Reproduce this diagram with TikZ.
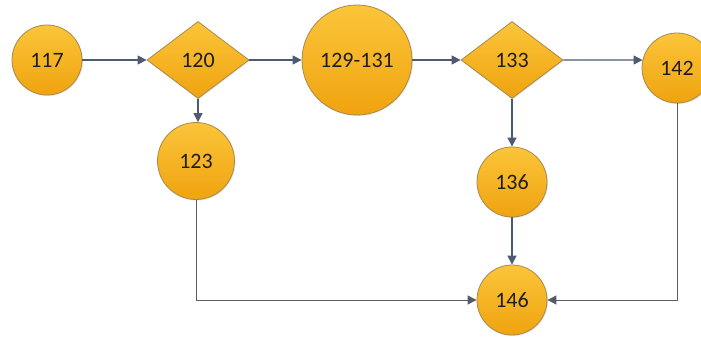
\documentclass[tikz,border=0pt]{standalone}
\usepackage{fontspec}
\setmainfont{Carlito}
\usetikzlibrary{shapes.geometric,arrows.meta,shadows}
\definecolor{fillTop}{HTML}{FBC53A}
\definecolor{fillBot}{HTML}{F0A30F}
\definecolor{edgeC}{HTML}{A8894A}
\definecolor{arrC}{HTML}{4E5A72}
\definecolor{lineC}{HTML}{5E5E5E}
\definecolor{txtC}{HTML}{1E1E1E}
\tikzset{
  blob/.style={draw=edgeC, line width=0.8pt, top color=fillTop, bottom color=fillBot,
    text=txtC, font=\fontsize{22}{24}\selectfont, inner sep=0pt,
    drop shadow={opacity=0.2, shadow xshift=1pt, shadow yshift=-1pt}},
  circ/.style={blob, circle},
  dia/.style={blob, diamond, minimum width=102pt, minimum height=77pt, aspect=1.3},
  arr/.style={draw=arrC, line width=1.4pt, -{Triangle[length=9pt,width=9pt]}},
  route/.style={draw=lineC, line width=0.9pt, -{Triangle[length=9pt,width=9pt,fill=arrC]}}
}
\begin{document}
\begin{tikzpicture}[x=1pt,y=-1pt]
\clip (0,0) rectangle (701,339);
\fill[white] (0,0) rectangle (701,339);
\node[circ, minimum size=70pt] (n117) at (47,60) {117};
\node[dia] (n120) at (198,60) {120};
\node[circ, minimum size=77pt] (n123) at (196,161) {123};
\node[circ, minimum size=110pt] (n129) at (357,60) {129-131};
\node[dia] (n133) at (512,60) {133};
\node[circ, minimum size=70pt] (n136) at (512,182) {136};
\node[circ, minimum size=70pt] (n142) at (677,68) {142};
\node[circ, minimum size=70pt] (n146) at (512,300) {146};
\draw[arr] (n117) -- (n120);
\draw[arr] (n120.east) -- (n129.west);
\draw[arr] (n129.east) -- (n133.west);
\draw[arr] (n133.east) -- (n142.167);
\draw[arr] (n120.south) -- (n120.south |- n123.north);
\draw[arr] (n133.south) -- (n136.north);
\draw[arr] (n136.south) -- (n146.north);
\draw[route] (n123.south) |- (n146.west);
\draw[route] (n142.south) |- (n146.east);
\end{tikzpicture}
\end{document}
